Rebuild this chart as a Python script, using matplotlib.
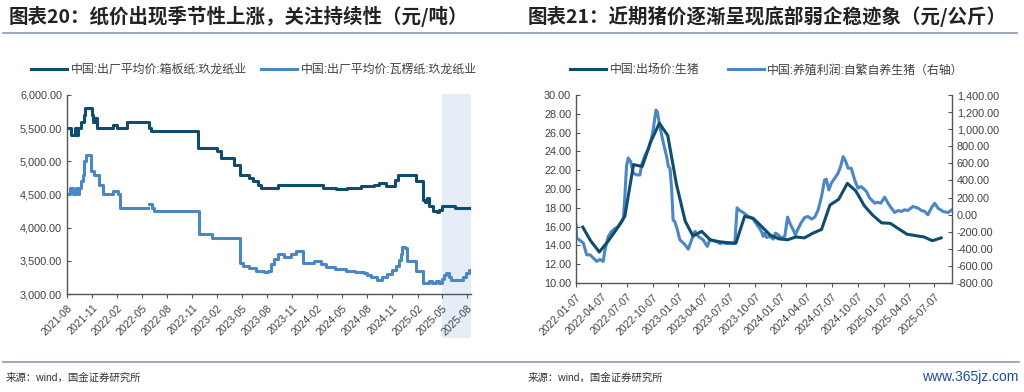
import numpy as np
import pandas as pd
import matplotlib
matplotlib.use('Agg')
import matplotlib.pyplot as plt
import matplotlib.dates as mdates
from matplotlib.ticker import FuncFormatter
from matplotlib.patches import Rectangle
from matplotlib.lines import Line2D

plt.rcParams['font.family'] = ['Liberation Sans', 'Noto Sans CJK SC']

DARK = '#0f4c6e'
LIGHT = '#4a87c4'
GREY = '#404040'

# ---- left chart: paper prices (yuan/ton) ----
box_dates = ['2021-08-01', '2021-08-17', '2021-08-30', '2021-09-05', '2021-09-11', '2021-09-23',
             '2021-10-01', '2021-10-07', '2021-10-30', '2021-11-05', '2021-11-10', '2021-11-20',
             '2022-01-16', '2022-02-01', '2022-03-10', '2022-05-27', '2022-06-04', '2022-11-22',
             '2023-02-01', '2023-02-16', '2023-04-04', '2023-04-25', '2023-05-28', '2023-06-12',
             '2023-06-28', '2023-07-10', '2023-09-12', '2024-02-21', '2024-04-09', '2024-05-20',
             '2024-07-09', '2024-08-27', '2024-09-15', '2024-10-09', '2024-11-09', '2024-11-21',
             '2025-01-25', '2025-02-20', '2025-03-01', '2025-03-06', '2025-03-15', '2025-03-28',
             '2025-04-12', '2025-04-21', '2025-05-03', '2025-06-18', '2025-08-15']
box_price = [5500, 5400, 5500, 5400, 5500, 5600, 5700, 5800, 5700, 5600,
             5650, 5500, 5550, 5500, 5600, 5500, 5450, 5200, 5150, 5050,
             4950, 4800, 4750, 4700, 4650, 4600, 4650, 4600, 4580, 4600,
             4630, 4650, 4680, 4630, 4720, 4800, 4700, 4420, 4380, 4440,
             4320, 4250, 4230, 4270, 4330, 4300, 4300]

corr_dates = ['2021-08-01', '2021-08-12', '2021-08-23', '2021-09-03', '2021-09-10', '2021-09-15',
              '2021-09-23', '2021-09-28', '2021-10-02', '2021-10-09', '2021-10-26', '2021-11-08',
              '2021-11-25', '2021-12-10', '2022-01-17', '2022-02-05', '2022-02-09', '2022-05-23',
              '2022-05-29', '2022-06-09', '2022-06-16', '2022-11-26', '2023-01-13', '2023-04-25',
              '2023-05-04', '2023-05-28', '2023-06-21', '2023-07-22', '2023-08-04', '2023-08-16',
              '2023-08-28', '2023-09-10', '2023-10-04', '2023-10-28', '2023-11-16', '2023-12-10',
              '2024-01-21', '2024-02-15', '2024-03-04', '2024-04-04', '2024-05-16', '2024-06-19',
              '2024-07-22', '2024-08-01', '2024-08-16', '2024-09-07', '2024-09-25', '2024-10-13',
              '2024-11-01', '2024-11-16', '2024-11-24', '2024-12-01', '2024-12-07', '2024-12-19',
              '2024-12-25', '2025-01-28', '2025-02-21', '2025-03-15', '2025-03-25', '2025-04-09',
              '2025-04-21', '2025-05-01', '2025-05-09', '2025-05-16', '2025-05-27', '2025-06-03',
              '2025-07-09', '2025-07-16', '2025-07-27', '2025-08-08', '2025-08-15']
corr_price = [4500, 4600, 4500, 4600, 4500, 4600, 4700, 4800, 5000, 5100,
              4850, 4800, 4650, 4500, 4550, 4500, 4300, np.nan, 4350, 4300,
              4250, 3900, 3850, 3470, 3420, 3390, 3350, 3330, 3350, 3450,
              3530, 3600, 3560, 3600, 3650, 3460, 3500, 3450, 3400, 3370,
              3350, 3330, 3320, 3290, 3260, 3210, 3260, 3300, 3360, 3420,
              3520, 3610, 3710, 3700, 3500, 3340, 3170, 3190, 3170, 3200,
              3160, 3230, 3290, 3320, 3250, 3210, 3210, 3250, 3310, 3360,
              3360]

left_labels = ['中国:出厂平均价:箱板纸:玖龙纸业', '中国:出厂平均价:瓦楞纸:玖龙纸业']

# ---- right chart: hog price (yuan/kg) and breeding profit (right axis) ----
hog_dates = pd.date_range('2022-01-31', '2025-07-31', freq='ME')
hog_price = [15.95, 14.5, 13.3, 14.4, 15.7, 17.1, 22.6, 22.4, 25.0, 27.0, 25.7, 20.5,
             16.6, 15.0, 15.5, 14.6, 14.4, 14.3, 14.25, 17.1, 16.9, 16.0, 15.1, 14.7,
             14.6, 14.9, 14.8, 15.3, 15.7, 18.3, 18.9, 20.6, 19.8, 18.2, 17.2, 16.4,
             16.35, 15.8, 15.2, 15.05, 14.9, 14.5, 14.8]

profit_dates = ['2022-01-07', '2022-01-09', '2022-02-02', '2022-02-14', '2022-02-26', '2022-03-10',
                '2022-03-22', '2022-04-02', '2022-04-14', '2022-04-20', '2022-05-02', '2022-05-14',
                '2022-05-26', '2022-06-07', '2022-06-19', '2022-06-25', '2022-06-30', '2022-07-06',
                '2022-07-12', '2022-07-21', '2022-07-30', '2022-08-11', '2022-08-23', '2022-08-29',
                '2022-09-10', '2022-09-21', '2022-10-03', '2022-10-09', '2022-10-19', '2022-10-24',
                '2022-10-31', '2022-11-12', '2022-11-26', '2022-12-02', '2022-12-08', '2022-12-14',
                '2022-12-19', '2022-12-25', '2023-01-03', '2023-01-12', '2023-01-30', '2023-02-11',
                '2023-02-23', '2023-03-07', '2023-03-19', '2023-04-05', '2023-04-20', '2023-04-29',
                '2023-05-23', '2023-06-04', '2023-06-15', '2023-06-27', '2023-07-09', '2023-07-27',
                '2023-08-04', '2023-08-14', '2023-08-26', '2023-09-12', '2023-09-30', '2023-10-18',
                '2023-10-30', '2023-11-05', '2023-11-11', '2023-11-17', '2023-11-29', '2023-12-11',
                '2023-12-19', '2023-12-28', '2024-01-09', '2024-01-21', '2024-01-31', '2024-02-08',
                '2024-02-20', '2024-02-28', '2024-03-08', '2024-03-20', '2024-04-01', '2024-04-13',
                '2024-04-25', '2024-05-07', '2024-05-19', '2024-05-31', '2024-06-11', '2024-06-17',
                '2024-06-26', '2024-07-05', '2024-07-17', '2024-07-29', '2024-08-07', '2024-08-16',
                '2024-08-24', '2024-09-03', '2024-09-14', '2024-09-26', '2024-10-08', '2024-10-18',
                '2024-10-26', '2024-11-07', '2024-11-19', '2024-11-25', '2024-12-07', '2024-12-16',
                '2024-12-28', '2025-01-11', '2025-01-23', '2025-02-04', '2025-02-16', '2025-02-28',
                '2025-03-12', '2025-03-23', '2025-04-04', '2025-04-22', '2025-05-10', '2025-05-22',
                '2025-06-03', '2025-06-14', '2025-06-26', '2025-07-08', '2025-07-20', '2025-08-07',
                '2025-08-25', '2025-09-08']
profit = [-118, -272, -332, -470, -470, -508, -547, -525, -547, -415, -255, -195,
          -162, -140, -85, -41, 212, 564, 663, 619, 487, 465, 465, 586,
          696, 762, 894, 993, 1224, 1202, 1070, 872, 680, 564, 542, 289,
          -63, -80, -173, -294, -349, -404, -294, -195, -255, -294, -371, -294,
          -316, -338, -327, -338, -338, -338, 80, 47, 25, -19, -50, -138,
          -197, -255, -216, -267, -255, -286, -216, -235, -274, -255, -29, -99,
          -177, -235, -169, -91, -33, -21, -52, -29, 57, 212, 407, 415,
          290, 368, 426, 485, 563, 680, 633, 543, 543, 407, 310, 329,
          310, 271, 193, 173, 134, 146, 134, 205, 134, 76, 25, 49,
          37, 57, 49, 96, 76, 49, 37, -2, 76, 134, 76, 37,
          25, 57]

right_labels = ['中国:出场价:生猪', '中国:养殖利润:自繁自养生猪（右轴）']

fmt2 = FuncFormatter(lambda v, p: '{:,.2f}'.format(v))

fig = plt.figure(figsize=(10.24, 3.92), dpi=100)


def style_axis(ax, sides):
    for s in ['top', 'right', 'left', 'bottom']:
        ax.spines[s].set_visible(s in sides)
        ax.spines[s].set_color('#555555')
        ax.spines[s].set_linewidth(1.0)
    ax.tick_params(axis='y', direction='in', length=3, labelsize=7.8,
                   labelcolor=GREY, color='#555555')
    ax.tick_params(axis='x', direction='out', length=3, labelsize=7.5,
                   labelcolor=GREY, color='#555555')


# left chart
ax1 = fig.add_axes([0.0654, 0.25, 0.3945, 0.5077])
ax1.plot(pd.to_datetime(box_dates), box_price, drawstyle='steps-post', color=DARK, lw=2.2,
         label=left_labels[0])
ax1.plot(pd.to_datetime(corr_dates), corr_price, drawstyle='steps-post', color=LIGHT, lw=2.2,
         label=left_labels[1])
ax1.set_xlim(pd.Timestamp('2021-08-01'), pd.Timestamp('2025-08-15'))
ax1.set_ylim(3000, 6000)
ax1.set_yticks(np.arange(3000, 6001, 500))
ax1.yaxis.set_major_formatter(fmt2)
ax1.set_xticks(pd.date_range('2021-08-01', '2025-08-01', freq='3MS'))
ax1.xaxis.set_major_formatter(mdates.DateFormatter('%Y-%m'))
style_axis(ax1, ['left', 'bottom'])
for t in ax1.get_xticklabels():
    t.set_rotation(45)
    t.set_ha('right')
    t.set_rotation_mode('anchor')
x0 = mdates.date2num(pd.Timestamp('2025-05-01'))
x1 = mdates.date2num(pd.Timestamp('2025-08-15'))
ax1.add_patch(Rectangle((x0, -0.22), x1 - x0, 1.225, transform=ax1.get_xaxis_transform(),
                        color='#e6edf7', zorder=0, clip_on=False, lw=0))
ax1.legend(loc='center', bbox_to_anchor=(0.248, 0.821), bbox_transform=fig.transFigure,
           ncol=2, frameon=False, fontsize=8.6, handlelength=3.0, columnspacing=1.2,
           handletextpad=0.3, labelcolor=GREY)

# right chart
ax2 = fig.add_axes([0.5625, 0.278, 0.3672, 0.4796])
ax3 = ax2.twinx()
l1, = ax2.plot(hog_dates, hog_price, color=DARK, lw=2.2, zorder=3)
l2, = ax3.plot(pd.to_datetime(profit_dates), profit, color=LIGHT, lw=2.2)
ax2.set_zorder(ax3.get_zorder() + 1)
ax2.patch.set_visible(False)
ax2.set_xlim(pd.Timestamp('2022-01-07'), pd.Timestamp('2025-09-08'))
ax2.set_ylim(10, 30)
ax2.set_yticks(np.arange(10, 30.1, 2))
ax2.yaxis.set_major_formatter(fmt2)
ax3.set_ylim(-800, 1400)
ax3.set_yticks(np.arange(-800, 1401, 200))
ax3.yaxis.set_major_formatter(fmt2)
ax2.set_xticks([pd.Timestamp('2022-01-07') + pd.DateOffset(months=3 * i) for i in range(15)])
ax2.xaxis.set_major_formatter(mdates.DateFormatter('%Y-%m-%d'))
style_axis(ax2, ['left', 'bottom'])
style_axis(ax3, ['right'])
for t in ax2.get_xticklabels():
    t.set_rotation(45)
    t.set_ha('right')
    t.set_rotation_mode('anchor')
fig.legend([l1, l2], right_labels, loc='center', bbox_to_anchor=(0.749, 0.821),
           ncol=2, frameon=False, fontsize=8.6, handlelength=3.0, columnspacing=2.4,
           handletextpad=0.3, labelcolor=GREY)

# titles, rules and source notes
fig.text(0.008, 0.957, '图表20：纸价出现季节性上涨，关注持续性（元/吨）', fontsize=14,
         fontweight='bold', color='#222222', va='center', family=['Noto Sans CJK SC'])
fig.text(0.515, 0.957, '图表21：近期猪价逐渐呈现底部弱企稳迹象（元/公斤）', fontsize=14,
         fontweight='bold', color='#222222', va='center', family=['Noto Sans CJK SC'])
fig.add_artist(Line2D([0.003, 0.5], [0.916, 0.916], color='#8a9bb0', lw=1.2))
fig.add_artist(Line2D([0.5, 0.993], [0.916, 0.916], color='#8a9bb0', lw=1.2))
fig.add_artist(Line2D([0.003, 0.995], [0.076, 0.076], color='#8a9bb0', lw=1.2))
fig.text(0.005, 0.036, '来源：wind，国金证券研究所', fontsize=7.5, color='#333333', va='center')
fig.text(0.515, 0.036, '来源：wind，国金证券研究所', fontsize=7.5, color='#333333', va='center')
fig.text(0.995, 0.038, 'www.365jz.com', fontsize=10, color='#1f4f9a', va='center', ha='right')

fig.savefig('out.png', dpi=100)
